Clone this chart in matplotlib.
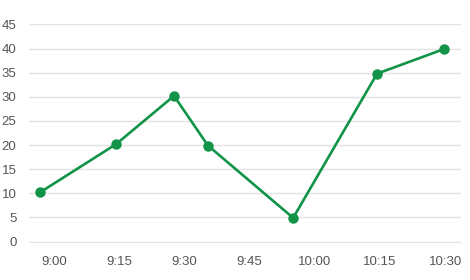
import matplotlib
matplotlib.use("Agg")
import matplotlib.pyplot as plt

plt.rcParams["font.family"] = ["Liberation Sans", "DejaVu Sans"]

# minutes after 9:00
minutes = [-3.2, 14.3, 27.6, 35.4, 55.0, 74.3, 89.7]
values = [10.2, 20.2, 30.2, 19.9, 4.9, 34.8, 39.9]

tick_minutes = [0, 15, 30, 45, 60, 75, 90]
tick_labels = ["9:00", "9:15", "9:30", "9:45", "10:00", "10:15", "10:30"]
y_ticks = [0, 5, 10, 15, 20, 25, 30, 35, 40, 45]

fig = plt.figure(figsize=(4.7, 2.8), dpi=100)
ax = fig.add_axes([29 / 470, (280 - 242.5) / 280, 432 / 470, 219 / 280])

ax.plot(minutes, values, color="#119447", linewidth=1.9,
        marker="o", markersize=6.5, clip_on=False, zorder=3)

ax.set_xlim(-5.75, 93.6)
ax.set_ylim(-0.2, 45.2)
ax.set_xticks(tick_minutes)
ax.set_xticklabels(tick_labels)
ax.set_yticks(y_ticks)

ax.grid(axis="y", color="#e3e3e3", linewidth=1)
ax.set_axisbelow(True)
for s in ax.spines.values():
    s.set_visible(False)
ax.tick_params(axis="both", length=0, labelsize=9.5, labelcolor="#555555")
ax.tick_params(axis="y", pad=9)
ax.tick_params(axis="x", pad=10)

fig.savefig("out.png", dpi=100)
